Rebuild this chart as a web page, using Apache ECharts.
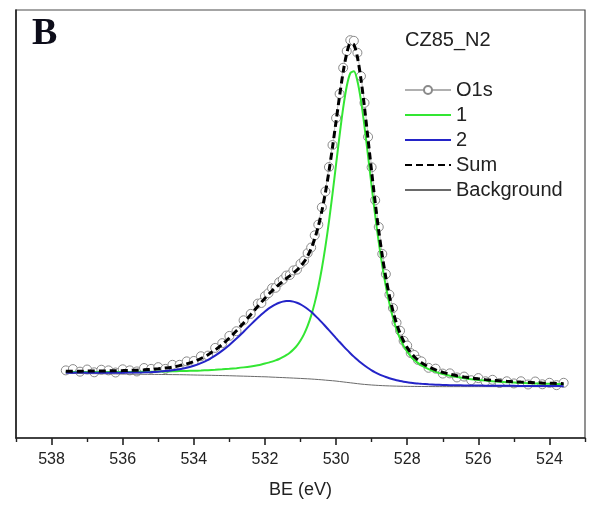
<!DOCTYPE html>
<html>
<head>
<meta charset="utf-8">
<script src="https://cdn.jsdelivr.net/npm/echarts@6/dist/echarts.min.js"></script>
<style>
  html, body { margin: 0; padding: 0; background: #fff; }
  #chart { width: 589px; height: 506px; }
</style>
</head>
<body>
<div id="chart"></div>
<script>
// Binding energy grid (eV), shared by the measured points and the fit curves
const bindingEnergy = [
  537.6, 537.4, 537.2, 537.0, 536.8, 536.6, 536.4, 536.2, 536.0, 535.8,
  535.6, 535.4, 535.2, 535.0, 534.8, 534.6, 534.4, 534.2, 534.0, 533.8,
  533.6, 533.4, 533.2, 533.0, 532.8, 532.6, 532.4, 532.2,
  532.1, 532.0, 531.9, 531.8, 531.7, 531.6, 531.5, 531.4, 531.3, 531.2,
  531.1, 531.0, 530.9, 530.8, 530.7, 530.6, 530.5, 530.4, 530.3, 530.2,
  530.1, 530.0, 529.9, 529.8, 529.7, 529.6, 529.5, 529.4, 529.3, 529.2,
  529.1, 529.0, 528.9, 528.8, 528.7, 528.6, 528.5, 528.4, 528.3, 528.2,
  528.1, 528.0, 527.9, 527.8, 527.7, 527.6,
  527.4, 527.2, 527.0, 526.8, 526.6, 526.4, 526.2, 526.0, 525.8, 525.6,
  525.4, 525.2, 525.0, 524.8, 524.6, 524.4, 524.2, 524.0, 523.8, 523.6
];

// Measured O1s intensity (a.u.)
const o1s = [
  15.8, 16.1, 15.5, 16.0, 15.35, 15.95, 15.8, 15.3, 16.05, 15.8,
  15.55, 16.35, 16.15, 16.55, 16.15, 17.1, 17.1, 17.9, 18.0, 19.1,
  19.25, 21.05, 22.15, 23.85, 24.95, 27.5, 29.0, 31.4,
  31.55, 33.15, 33.85, 35.0, 35.1, 36.4, 37.0, 37.95, 38.1, 39.15,
  39.35, 40.7, 41.45, 43.2, 44.5, 47.35, 49.85, 53.9, 57.6, 63.3,
  68.45, 74.75, 80.4, 86.5, 90.4, 92.95, 92.8, 90.0, 84.55, 78.3,
  70.35, 63.25, 55.55, 49.3, 43.0, 38.3, 33.5, 30.35, 26.95, 25.05,
  22.7, 21.6, 19.85, 19.4, 18.25, 17.9,
  16.4, 16.2, 15.05, 15.1, 14.15, 14.35, 13.5, 14.0, 13.25, 13.6,
  12.85, 13.25, 12.75, 13.25, 12.5, 13.2, 12.55, 12.9, 12.35, 12.9
];

// Fitted component 1 (lattice oxygen) on top of the background
const peak1 = [
  15.41, 15.41, 15.41, 15.41, 15.41, 15.41, 15.42, 15.42, 15.43, 15.44,
  15.45, 15.47, 15.49, 15.52, 15.55, 15.58, 15.63, 15.67, 15.71, 15.77,
  15.85, 15.93, 16.04, 16.17, 16.32, 16.50, 16.73, 17.02,
  17.19, 17.39, 17.61, 17.84, 18.13, 18.46, 18.87, 19.35, 19.94, 20.68,
  21.60, 22.79, 24.28, 26.19, 28.59, 31.57, 35.22, 39.60, 44.72, 50.57,
  57.04, 63.91, 70.77, 77.11, 82.18, 85.23, 85.68, 83.42, 78.88, 72.77,
  65.87, 58.80, 52.01, 45.76, 40.23, 35.45, 31.42, 28.09, 25.39, 23.24,
  21.52, 20.17, 19.10, 18.24, 17.55, 16.98,
  16.10, 15.46, 14.95, 14.56, 14.24, 13.97, 13.75, 13.57, 13.41, 13.27,
  13.16, 13.05, 12.97, 12.89, 12.82, 12.76, 12.70, 12.65, 12.61, 12.57
];

// Fitted component 2 (surface oxygen) on top of the background
const peak2 = [
  15.28, 15.27, 15.28, 15.27, 15.27, 15.26, 15.26, 15.27, 15.27, 15.29,
  15.31, 15.35, 15.41, 15.50, 15.63, 15.81, 16.07, 16.42, 16.88, 17.50,
  18.28, 19.24, 20.41, 21.75, 23.23, 24.84, 26.49, 28.10,
  28.86, 29.57, 30.22, 30.76, 31.24, 31.60, 31.86, 31.99, 31.99, 31.86,
  31.60, 31.23, 30.73, 30.15, 29.47, 28.70, 27.89, 27.02, 26.11, 25.19,
  24.28, 23.35, 22.42, 21.52, 20.64, 19.81, 19.01, 18.26, 17.56, 16.93,
  16.35, 15.82, 15.36, 14.94, 14.58, 14.25, 13.97, 13.72, 13.50, 13.32,
  13.16, 13.02, 12.91, 12.81, 12.73, 12.65,
  12.54, 12.46, 12.39, 12.35, 12.32, 12.29, 12.27, 12.25, 12.23, 12.22,
  12.20, 12.19, 12.18, 12.17, 12.17, 12.16, 12.15, 12.14, 12.13, 12.12
];

// Envelope of the fit
const fitSum = [
  15.59, 15.60, 15.62, 15.63, 15.65, 15.66, 15.69, 15.72, 15.75, 15.80,
  15.85, 15.93, 16.03, 16.17, 16.35, 16.58, 16.91, 17.33, 17.87, 18.58,
  19.47, 20.55, 21.86, 23.37, 25.05, 26.89, 28.82, 30.77,
  31.73, 32.66, 33.56, 34.38, 35.18, 35.91, 36.61, 37.26, 37.89, 38.54,
  39.24, 40.10, 41.14, 42.51, 44.28, 46.55, 49.45, 53.02, 57.31, 62.31,
  67.94, 73.96, 79.99, 85.53, 89.82, 92.14, 91.89, 88.98, 83.84, 77.18,
  69.77, 62.24, 55.04, 48.42, 42.57, 37.50, 33.22, 29.67, 26.77, 24.46,
  22.60, 21.12, 19.95, 19.00, 18.24, 17.60,
  16.62, 15.91, 15.34, 14.91, 14.56, 14.26, 14.02, 13.82, 13.64, 13.49,
  13.36, 13.24, 13.15, 13.06, 12.99, 12.92, 12.85, 12.79, 12.74, 12.69
];

// Shirley-type background
const background = [
  15.10, 15.08, 15.07, 15.05, 15.03, 15.01, 14.99, 14.97, 14.95, 14.93,
  14.91, 14.89, 14.87, 14.85, 14.83, 14.81, 14.79, 14.76, 14.72, 14.69,
  14.66, 14.62, 14.59, 14.55, 14.50, 14.45, 14.40, 14.35,
  14.32, 14.30, 14.27, 14.22, 14.19, 14.15, 14.12, 14.08, 14.04, 14.00,
  13.96, 13.92, 13.87, 13.83, 13.78, 13.72, 13.66, 13.60, 13.52, 13.45,
  13.38, 13.30, 13.20, 13.10, 13.00, 12.90, 12.80, 12.70, 12.60, 12.52,
  12.45, 12.38, 12.33, 12.28, 12.24, 12.20, 12.17, 12.14, 12.12, 12.10,
  12.08, 12.07, 12.06, 12.05, 12.04, 12.03,
  12.02, 12.01, 12.00, 12.00, 12.00, 12.00, 12.00, 12.00, 12.00, 12.00,
  12.00, 12.00, 12.00, 12.00, 12.00, 12.00, 12.00, 12.00, 12.00, 12.00
];

// Axis tick positions
const majorTicks = [524, 526, 528, 530, 532, 534, 536, 538];
const minorTicks = [523, 525, 527, 529, 531, 533, 535, 537, 539];

const seriesNames = ['O1s', '1', '2', 'Sum', 'Background'];
const sampleName = 'CZ85_N2';
const panelLetter = 'B';
const xTitle = 'BE (eV)';

const pairs = (ys) => bindingEnergy.map((x, i) => [x, ys[i]]);
const FONT = '"Liberation Sans", Arial, sans-serif';

// Legend entries: only the measured series keeps its marker in the key
const legendData = seriesNames.map((name, i) =>
  i === 0 ? { name } : { name, itemStyle: { opacity: 0 } }
);

const chart = echarts.init(document.getElementById('chart'), null, { renderer: 'canvas' });

chart.setOption({
  animation: false,
  backgroundColor: '#ffffff',
  title: [{
    text: sampleName,
    left: 405,
    top: 30,
    padding: 0,
    textStyle: { fontFamily: FONT, fontSize: 20, fontWeight: 'normal', color: '#222' }
  }],
  graphic: [{
    type: 'text',
    left: 32,
    top: 15,
    style: {
      text: panelLetter,
      font: 'bold 38px "Liberation Serif", "Times New Roman", serif',
      fill: '#0d0d1a'
    }
  }],
  legend: {
    orient: 'vertical',
    left: 404,
    top: 80,
    itemWidth: 46,
    itemHeight: 10,
    itemGap: 5,
    padding: 0,
    selectedMode: false,
    textStyle: { fontFamily: FONT, fontSize: 20, color: '#222' },
    data: legendData
  },
  grid: {
    left: 16, right: 4, top: 10, bottom: 68,
    show: true, borderColor: '#4a4a4a', borderWidth: 1.2
  },
  xAxis: [{
    type: 'value',
    inverse: true,
    min: 523, max: 539,
    position: 'bottom',
    name: xTitle,
    nameLocation: 'middle',
    nameGap: 43,
    nameTextStyle: { fontFamily: FONT, fontSize: 18, color: '#222' },
    axisLine: { show: true, onZero: false, lineStyle: { color: '#222', width: 1.6 } },
    axisTick: { show: true, inside: false, length: 7, customValues: majorTicks,
                lineStyle: { color: '#222', width: 1.6 } },
    axisLabel: { show: true, customValues: majorTicks, margin: 14,
                 fontFamily: FONT, fontSize: 16, color: '#222' },
    splitLine: { show: false }
  }, {
    type: 'value',
    inverse: true,
    min: 523, max: 539,
    position: 'bottom',
    axisLine: { show: false },
    axisTick: { show: true, inside: false, length: 4, customValues: minorTicks,
                lineStyle: { color: '#222', width: 1.4 } },
    axisLabel: { show: false },
    splitLine: { show: false }
  }],
  yAxis: {
    type: 'value',
    min: 0, max: 100,
    axisLine: { show: true, lineStyle: { color: '#222', width: 1.6 } },
    axisTick: { show: false },
    axisLabel: { show: false },
    splitLine: { show: false }
  },
  series: [{
    name: seriesNames[0],
    type: 'line',
    data: pairs(o1s),
    symbol: 'circle',
    symbolSize: 9,
    showAllSymbol: true,
    itemStyle: { color: '#ffffff', borderColor: '#8a8a8a', borderWidth: 1 },
    lineStyle: { color: '#b0b0b0', width: 0.8 },
    z: 2
  }, {
    name: seriesNames[1],
    type: 'line',
    data: pairs(peak1),
    showSymbol: false,
    symbol: 'none',
    smooth: 0.3,
    itemStyle: { color: '#33e633' },
    lineStyle: { color: '#33e633', width: 2 },
    z: 4
  }, {
    name: seriesNames[2],
    type: 'line',
    data: pairs(peak2),
    showSymbol: false,
    symbol: 'none',
    smooth: 0.3,
    itemStyle: { color: '#2424c8' },
    lineStyle: { color: '#2424c8', width: 2 },
    z: 4
  }, {
    name: seriesNames[3],
    type: 'line',
    data: pairs(fitSum),
    showSymbol: false,
    symbol: 'none',
    smooth: 0.3,
    itemStyle: { color: '#000000' },
    lineStyle: { color: '#000000', width: 3, type: [7, 4] },
    z: 5
  }, {
    name: seriesNames[4],
    type: 'line',
    data: pairs(background),
    showSymbol: false,
    symbol: 'none',
    smooth: 0.3,
    itemStyle: { color: '#6a6a6a' },
    lineStyle: { color: '#6a6a6a', width: 1 },
    z: 3
  }]
});
</script>
</body>
</html>
